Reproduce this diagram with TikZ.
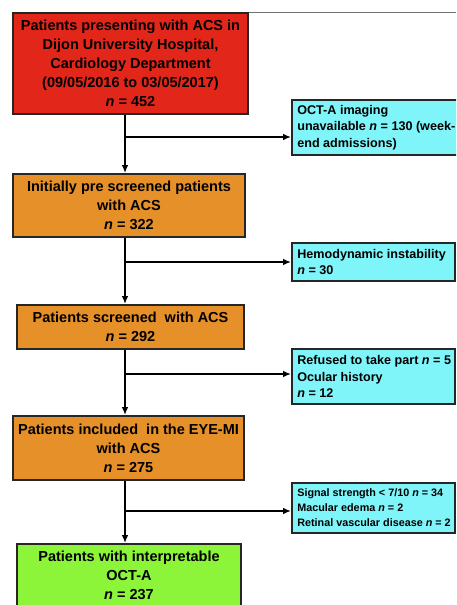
\documentclass[tikz,border=0pt]{standalone}
\usepackage{fontspec}
\setmainfont{Liberation Sans}
\usetikzlibrary{fit,arrows.meta}

\definecolor{acsred}{HTML}{E3261A}
\definecolor{acsorange}{HTML}{E59028}
\definecolor{acscyan}{HTML}{80F5F9}
\definecolor{acsgreen}{HTML}{8CF53A}

\begin{document}
\begin{tikzpicture}[x=1pt, y=-1pt, >={Latex[length=8pt,width=6.5pt]}, line width=1.8pt,
    box/.style={draw=black!85, line width=1.8pt, inner sep=0pt},
    maintext/.style={align=center, font=\bfseries\fontsize{14.5}{19}\selectfont},
    sidetext/.style={align=left, anchor=west, xshift=2pt, font=\bfseries\fontsize{12.6}{16.5}\selectfont},
    smalltext/.style={sidetext, font=\bfseries\fontsize{10.8}{15}\selectfont}]
    \clip (0,0) rectangle (456,605);
    \draw[line width=0.6pt, black!55] (248,12) -- (456,12);

    \node[box, fill=acsred, fit={(13,13) (248,114)}, label={[maintext]center:{Patients presenting with ACS in\\Dijon University Hospital,\\Cardiology Department\\(09/05/2016 to 03/05/2017)\\\textit{n} = 452}}] (red) {};
    \node[box, fill=acscyan, fit={(292,100) (470,155)}, label={[sidetext]west:{OCT-A imaging\\unavailable \textit{n} = 130 (week-\\end admissions)}}] (oct) {};

    \node[box, fill=acsorange, fit={(13,174) (245,237)}, label={[maintext]center:{Initially pre screened patients\\with ACS\\\textit{n} = 322}}] (pre) {};
    \node[box, fill=acscyan, fit={(292,243) (455,281)}, label={[sidetext]west:{Hemodynamic instability\\\textit{n} = 30}}] (hemo) {};

    \node[box, fill=acsorange, fit={(17,305) (244,349)}, label={[maintext]center:{Patients screened\ \ with ACS\\\textit{n} = 292}}] (scr) {};
    \node[box, fill=acscyan, fit={(292,349) (455,404)}, label={[sidetext]west:{Refused to take part \textit{n} = 5\\Ocular history\\\textit{n} = 12}}] (refu) {};

    \node[box, fill=acsorange, fit={(13,416) (244,480)}, label={[maintext]center:{Patients included\ \ in the EYE-MI\\with ACS\\\textit{n} = 275}}] (incl) {};
    \node[box, fill=acscyan, fit={(292,483) (455,533)}, label={[smalltext]west:{Signal strength < 7/10 \textit{n} = 34\\Macular edema \textit{n} = 2\\Retinal vascular disease \textit{n} = 2}}] (sig) {};

    \node[box, fill=acsgreen, fit={(17,544) (241,607)}, label={[maintext]center:{Patients with interpretable\\OCT-A\\\textit{n} = 237}}] (octa) {};

    \coordinate (b1) at (125,137);
    \coordinate (b2) at (125,262);
    \coordinate (b3) at (125,374);
    \coordinate (b4) at (125,511);

    \draw[->] (red.south -| b1) -- (pre.north -| b1);
    \draw[->] (b1) -- (b1 -| oct.west);
    \draw[->] (pre.south -| b2) -- (scr.north -| b2);
    \draw[->] (b2) -- (b2 -| hemo.west);
    \draw[->] (scr.south -| b3) -- (incl.north -| b3);
    \draw[->] (b3) -- (b3 -| refu.west);
    \draw[->] (incl.south -| b4) -- (octa.north -| b4);
    \draw[->] (b4) -- (b4 -| sig.west);
\end{tikzpicture}
\end{document}
